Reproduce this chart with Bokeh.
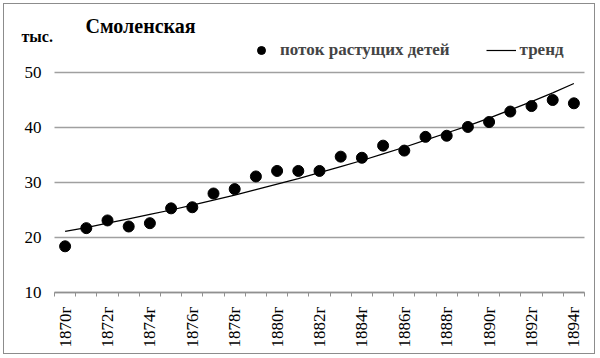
from bokeh.plotting import figure
from bokeh.models import (Range1d, FixedTicker, CustomJSTickFormatter, Label,
                          Legend, LegendItem)
from bokeh.embed import file_html
from bokeh.resources import INLINE

years = list(range(1870, 1895))
children = [18.4, 21.7, 23.1, 22.0, 22.6, 25.3, 25.5, 28.0, 28.8, 31.1, 32.1, 32.1, 32.1,
            34.7, 34.5, 36.7, 35.8, 38.3, 38.5, 40.1, 41.0, 42.9, 43.9, 45.0, 44.4]
trend = [21.1, 21.8, 22.6, 23.4, 24.2, 25.0, 25.9, 26.8, 27.7, 28.7, 29.7, 30.7, 31.8,
         32.9, 34.0, 35.2, 36.4, 37.7, 39.0, 40.3, 41.7, 43.2, 44.7, 46.3, 48.0]
y_ticks = [10, 20, 30, 40, 50]
label_years = years[::2]

title_text = "Смоленская"
unit_text = "тыс."
series_name = "поток растущих детей"
trend_name = "тренд"

FONT = "Liberation Serif, Times New Roman, serif"
GRID = "#a0a0a0"
AXIS = "#909090"

# canvas and plot-area geometry (pixels)
W, H = 592, 351
FL, FR, FT, FB = 50, 580, 68, 288
x0, x1 = years[0] - 0.5, years[-1] + 0.5
y0, y1 = y_ticks[0], y_ticks[-1]
kx = (FR - FL) / (x1 - x0)
ky = (FB - FT) / (y1 - y0)

p = figure(width=W, height=H, output_backend="svg", toolbar_location=None,
           x_range=Range1d(x0 - FL / kx, x1 + (W - FR) / kx),
           y_range=Range1d(y0 - (H - FB) / ky, y1 + FT / ky),
           min_border_left=0, min_border_right=0, min_border_top=0, min_border_bottom=0)
try:
    p.title = None
except Exception:
    pass
p.styles = {"border": "1px solid #8c8c8c", "margin": "3px 0px 0px 3px"}
p.outline_line_color = None
p.background_fill_color = "white"
p.border_fill_color = "white"
p.xgrid.grid_line_color = None

# y axis (drawn at the left edge of the plot area)
ya = p.yaxis[0]
ya.fixed_location = x0
ya.bounds = (y0, y1)
ya.ticker = FixedTicker(ticks=y_ticks)
ya.axis_line_color = None
ya.minor_tick_line_color = None
ya.major_label_text_font = FONT
ya.major_label_text_font_size = "17px"
ya.major_label_text_color = "black"
ya.major_label_standoff = 13
ya.major_tick_out = 0

g = p.ygrid[0]
if hasattr(g, "cross_bounds"):
    g.cross_bounds = (x0, x1)
    g.grid_line_color = GRID
    g.grid_line_width = 1.5
    ya.major_tick_line_color = None
    ya.major_tick_in = 0
else:
    g.grid_line_color = None
    ya.major_tick_line_color = GRID
    ya.major_tick_line_width = 1.5
    ya.major_tick_in = FR - FL

# x axis (drawn at y = 10)
xa = p.xaxis[0]
xa.fixed_location = y0
xa.bounds = (x0, x1)
xa.ticker = FixedTicker(ticks=label_years,
                        minor_ticks=[y - 0.5 for y in years] + [years[-1] + 0.5])
xa.formatter = CustomJSTickFormatter(code='return tick.toFixed(0) + "г"')
xa.major_label_orientation = 1.5707963
xa.major_label_text_font = FONT
xa.major_label_text_font_size = "17px"
xa.major_label_text_color = "black"
xa.major_tick_line_color = None
xa.major_tick_in = 0
xa.major_tick_out = 0
xa.major_label_standoff = 10
xa.axis_line_color = AXIS
xa.axis_line_width = 1.5
xa.minor_tick_line_color = AXIS
xa.minor_tick_in = 0
xa.minor_tick_out = 4

r_trend = p.line(years, trend, line_color="black", line_width=1.2)
r_pts = p.scatter(years, children, size=11, fill_color="black", line_color="black")

legend = Legend(items=[LegendItem(label=series_name, renderers=[r_pts]),
                       LegendItem(label=trend_name, renderers=[r_trend])],
                orientation="horizontal", location=(242, H - 36 - 20),
                border_line_color=None, background_fill_alpha=0,
                padding=0, margin=0, spacing=36, glyph_width=30, label_standoff=4,
                label_text_font=FONT, label_text_font_size="17px",
                label_text_font_style="bold", label_height=20)
p.add_layout(legend, "center")

p.add_layout(Label(x=81, y=H - 21, x_units="screen", y_units="screen",
                   text=title_text, text_font=FONT, text_font_size="20px",
                   text_font_style="bold", text_color="black", text_baseline="alphabetic"))
p.add_layout(Label(x=17, y=H - 32, x_units="screen", y_units="screen",
                   text=unit_text, text_font=FONT, text_font_size="16px",
                   text_font_style="bold", text_color="black", text_baseline="alphabetic"))

open("out.html", "w").write(file_html(p, INLINE))
